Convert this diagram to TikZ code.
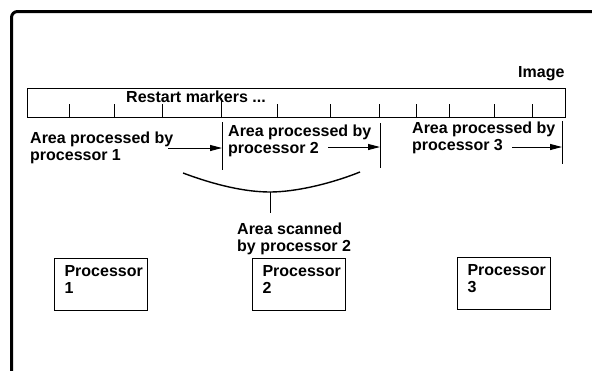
\documentclass[tikz,border=0pt]{standalone}
\usepackage{fontspec}
\setmainfont{Liberation Sans}
\usetikzlibrary{arrows.meta,calc}
\tikzset{
  lbl/.style={font=\fontsize{16}{17}\selectfont\bfseries, align=left, inner sep=0pt},
  bar/.style={draw=black, line width=1.1pt, minimum width=538pt, minimum height=29pt,
    anchor=north west, inner sep=0pt},
  procbox/.style={draw=black, line width=1.1pt, lbl, text width=73pt, inner xsep=10pt,
    minimum width=93pt, minimum height=52pt, text depth=27pt, anchor=north west},
  tick/.style={draw=black, line width=0.9pt},
  divider/.style={draw=black, line width=1pt},
  arr/.style={-{Triangle[length=12pt,width=6pt]}, line width=1pt},
  scanline/.style={draw=black, line width=1.4pt},
  frame/.style={draw=black, line width=3pt, rounded corners=6pt}
}

\begin{document}
\begin{tikzpicture}[x=1pt, y=-1pt]
  \useasboundingbox (0,0) rectangle (592,370);
  \clip (0,0) rectangle (592,370);
  \fill[white] (0,0) rectangle (592,370);
  \draw[frame] (11.5,380) |- (600,11.5);

  % the image strip
  \node[bar] (strip) at (27,88) {};
  \node[lbl, anchor=base west] (imglbl) at (518,77) {Image};
  \node[lbl, anchor=base west] (rstlbl) at (126,102) {Restart markers ...};
  \foreach \x in {69,114,162,277,330,379,416,449,494,532}{
    \draw[tick] (\x,0 |- strip.south) -- ++(0,-14);
  }
  \draw[tick] (221,0 |- strip.south) -- ++(0,-20);

  % areas per processor
  \coordinate (d1t) at (222,122); \coordinate (d1b) at (222,170);
  \coordinate (d2t) at (380,123); \coordinate (d2b) at (380,168);
  \coordinate (d3t) at (562,121); \coordinate (d3b) at (562,164);
  \draw[divider] (d1t) -- (d1b);
  \draw[divider] (d2t) -- (d2b);
  \draw[divider] (d3t) -- (d3b);

  \node[lbl, anchor=north west] (area1) at (30,131.5) {Area processed by\\processor 1};
  \node[lbl, anchor=north west] (area2) at (228,124.5) {Area processed by\\processor 2};
  \node[lbl, anchor=north west] (area3) at (412,121.5) {Area processed by\\processor 3};

  \coordinate (a1) at (168,148);
  \coordinate (a2) at (328,147);
  \coordinate (a3) at (512,147);
  \draw[arr] (a1) -- (a1 -| d1t);
  \draw[arr] (a2) -- (a2 -| d2t);
  \draw[arr] (a3) -- (a3 -| d3t);

  % scanned area
  \coordinate (sl) at (183,173);
  \coordinate (sm) at (270,192);
  \coordinate (sr) at (360,172);
  \coordinate (sb) at (270,213);
  \draw[scanline] (sl) .. controls (215,185) and (245,192) .. (sm)
    .. controls (295,192) and (330,184) .. (sr);
  \draw[divider] (sm) -- (sb);
  \node[lbl, anchor=north west] (scan) at (237,222.5) {Area scanned\\by processor 2};

  % processors
  \node[procbox] (proc1) at (54,258) {Processor\\1};
  \node[procbox] (proc2) at (252,258) {Processor\\2};
  \node[procbox] (proc3) at (457,257) {Processor\\3};
\end{tikzpicture}
\end{document}
